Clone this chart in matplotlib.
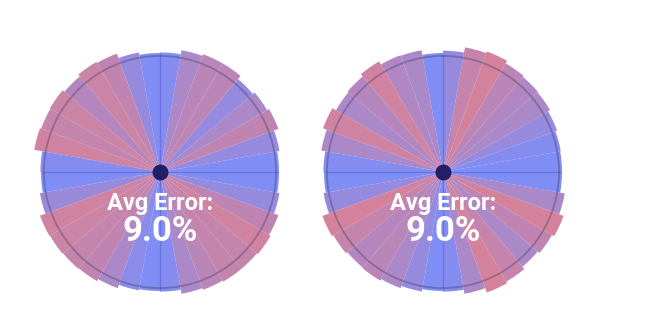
import matplotlib.pyplot as plt
import numpy as np

# error (%) for each 10-degree sector, counter-clockwise from east
errors_left = [1, 5, 13, 9, 5, 12, 12, 9, 2,
               1, 5, 13, 15, 11, 15, 14, 16, 2,
               1, 6, 16, 15, 14, 13, 9, 3, 1,
               2, 9, 12, 14, 14, 16, 13, 5, 1]
errors_right = [1, 2, 5, 9, 10, 12, 17, 14, 5,
                1, 9, 10, 16, 11, 9, 16, 9, 2,
                1, 5, 17, 14, 11, 12, 9, 5, 1,
                2, 9, 17, 14, 9, 13, 17, 9, 1]
label = "Avg Error:"

blue = np.array([100, 122, 250]) / 255
pink = np.array([205, 108, 138]) / 255


def draw_radial(ax, errors):
    errors = np.array(errors, dtype=float)
    n = len(errors)
    theta = np.arange(n) * 2 * np.pi / n
    width = 2 * np.pi / n
    frac = np.clip(errors / 17, 0, 1)
    colors = [(*(blue * (1 - f) + pink * f), 0.85) for f in frac]
    radius = 1.02 + errors / 100 * 0.5

    ax.bar(theta, radius, width=width, align='edge', color=colors,
           linewidth=0)

    # axis lines through the centre
    for t in [0, np.pi / 2, np.pi, 3 * np.pi / 2]:
        ax.plot([t, t], [0, 1.02], color='#5565e0', lw=1, alpha=0.6)

    # reference circle
    tt = np.linspace(0, 2 * np.pi, 400)
    ax.plot(tt, np.ones_like(tt), color='#3a3358', lw=1.3, alpha=0.35)

    ax.scatter([0], [0], s=110, color='#221f66', zorder=5)

    ax.text(0.5, 0.377, label, transform=ax.transAxes, ha='center', va='center',
            fontsize=17, fontweight='bold', family='Roboto', color='white')
    ax.text(0.5, 0.273, f"{errors.mean():.1f}%", transform=ax.transAxes,
            ha='center', va='center', fontsize=25, fontweight='bold',
            family='Roboto', color='white')

    ax.set_ylim(0, 1.12)
    ax.set_axis_off()


fig = plt.figure(figsize=(6.7, 3.22), dpi=100)
W, H = 670, 322
size = 260
ax1 = fig.add_axes([30 / W, 20 / H, size / W, size / H], projection='polar')
ax2 = fig.add_axes([313 / W, 20 / H, size / W, size / H], projection='polar')

draw_radial(ax1, errors_left)
draw_radial(ax2, errors_right)

fig.savefig('out.png', dpi=100)
